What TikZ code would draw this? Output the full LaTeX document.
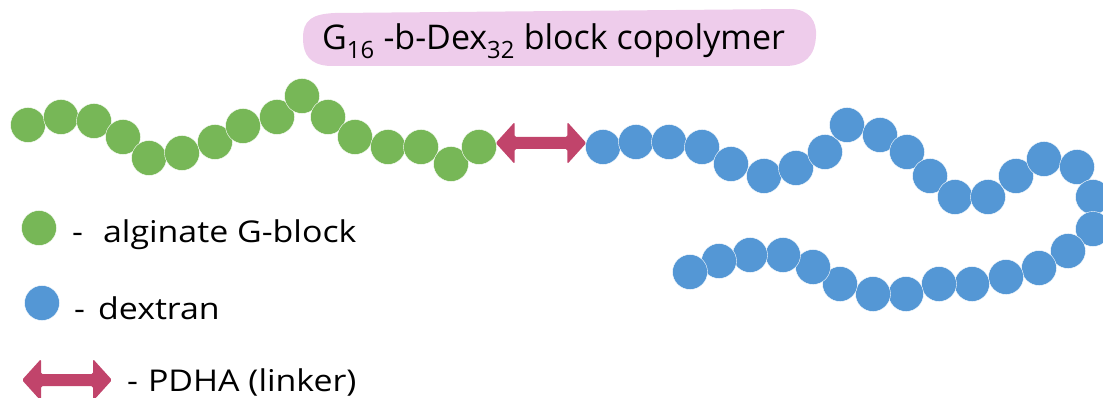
\documentclass[tikz,border=0pt]{standalone}
\usepackage{fontspec}
\setmainfont{Open Sans}
\newfontfamily\keyfont[FakeStretch=1.13]{Open Sans}
\usetikzlibrary{calc}
\definecolor{galg}{HTML}{77B757}
\definecolor{dex}{HTML}{5497D5}
\definecolor{pdha}{HTML}{C1446B}
\definecolor{titlebg}{HTML}{EECCEB}
\tikzset{
  mono/.style={circle, inner sep=0pt, minimum size=35pt, draw=white, line width=0.4pt},
  gunit/.style={mono, fill=galg},
  dunit/.style={mono, fill=dex},
  linker/.style={fill=pdha, rounded corners=1.5pt},
  legendtext/.style={anchor=base west, inner sep=0pt, font=\keyfont\fontsize{30}{36}\selectfont},
  titletext/.style={anchor=base west, inner sep=0pt, font=\fontsize{34}{40}\selectfont},
}
% double-headed linker arrow between two points
\newcommand\pdhaarrow[2]{%
  \fill[linker] (#1) -- ++(19,-21) -- ++(0,15) -- ($(#2)+(-19,-6)$) -- ++(0,-15)
    -- (#2) -- ++(-19,21) -- ++(0,-15) -- ($(#1)+(19,6)$) -- ++(0,15) -- cycle;}

\begin{document}
\begin{tikzpicture}[x=1pt,y=-1pt]
\useasboundingbox (0,0) rectangle (1103,398);

% title banner
\fill[titlebg] (303,38) .. controls (303,20) and (312,14) .. (335,13)
  -- (790,9) .. controls (810,9) and (817,22) .. (816,36)
  .. controls (815,56) and (805,66) .. (785,66)
  -- (330,66) .. controls (310,65) and (303,55) .. (303,38) -- cycle;
\node[titletext] (title) at (322,50) {G\textsubscript{16} -b-Dex\textsubscript{32} block copolymer};

% alginate G-block chain
\foreach \i/\x/\y in {1/28/125, 2/61/117, 3/94/121, 4/123/137, 5/149/158, 6/182/153,
  7/215/142, 8/243/126, 9/277/117, 10/302/96, 11/328/117, 12/355/137, 13/388/147,
  14/421/147, 15/451/164, 16/479/147}
  \node[gunit] (g\i) at (\x,\y) {};

% dextran chain
\foreach \i/\x/\y in {1/603/147, 2/636/142, 3/669/142, 4/702/147, 5/731/164, 6/764/176,
  7/796/168, 8/825/152, 9/847/125, 10/880/135, 11/907/152, 12/930/176, 13/955/197,
  14/988/197, 15/1016/176, 16/1044/159, 17/1077/167, 18/1093/197, 19/1093/229,
  20/1068/251, 21/1039/268, 22/1006/277, 23/972/284, 24/939/284, 25/906/294,
  26/873/294, 27/840/284, 28/813/267, 29/783/255, 30/750/255, 31/719/261, 32/690/272}
  \node[dunit] (b\i) at (\x,\y) {};

% PDHA linker joining the two blocks
\coordinate (lk-a) at ($(g16.east)+(-1,-4)$);
\coordinate (lk-b) at ($(b1.west)+(1,-4)$);
\pdhaarrow{lk-a}{lk-b}

% legend
\node[gunit] (key-g) at (39,228) {};
\node[legendtext] (key-g-text) at (72,243) {-\hspace{20pt}alginate G-block};
\node[dunit] (key-d) at (42,303) {};
\node[legendtext] (key-d-text) at (74,319) {-\hspace{13pt}dextran};
\coordinate (key-la) at (22,380);
\coordinate (key-lb) at (112,380);
\pdhaarrow{key-la}{key-lb}
\node[legendtext] (key-l-text) at (127,391) {-\hspace{10pt}PDHA (linker)};
\end{tikzpicture}
\end{document}
